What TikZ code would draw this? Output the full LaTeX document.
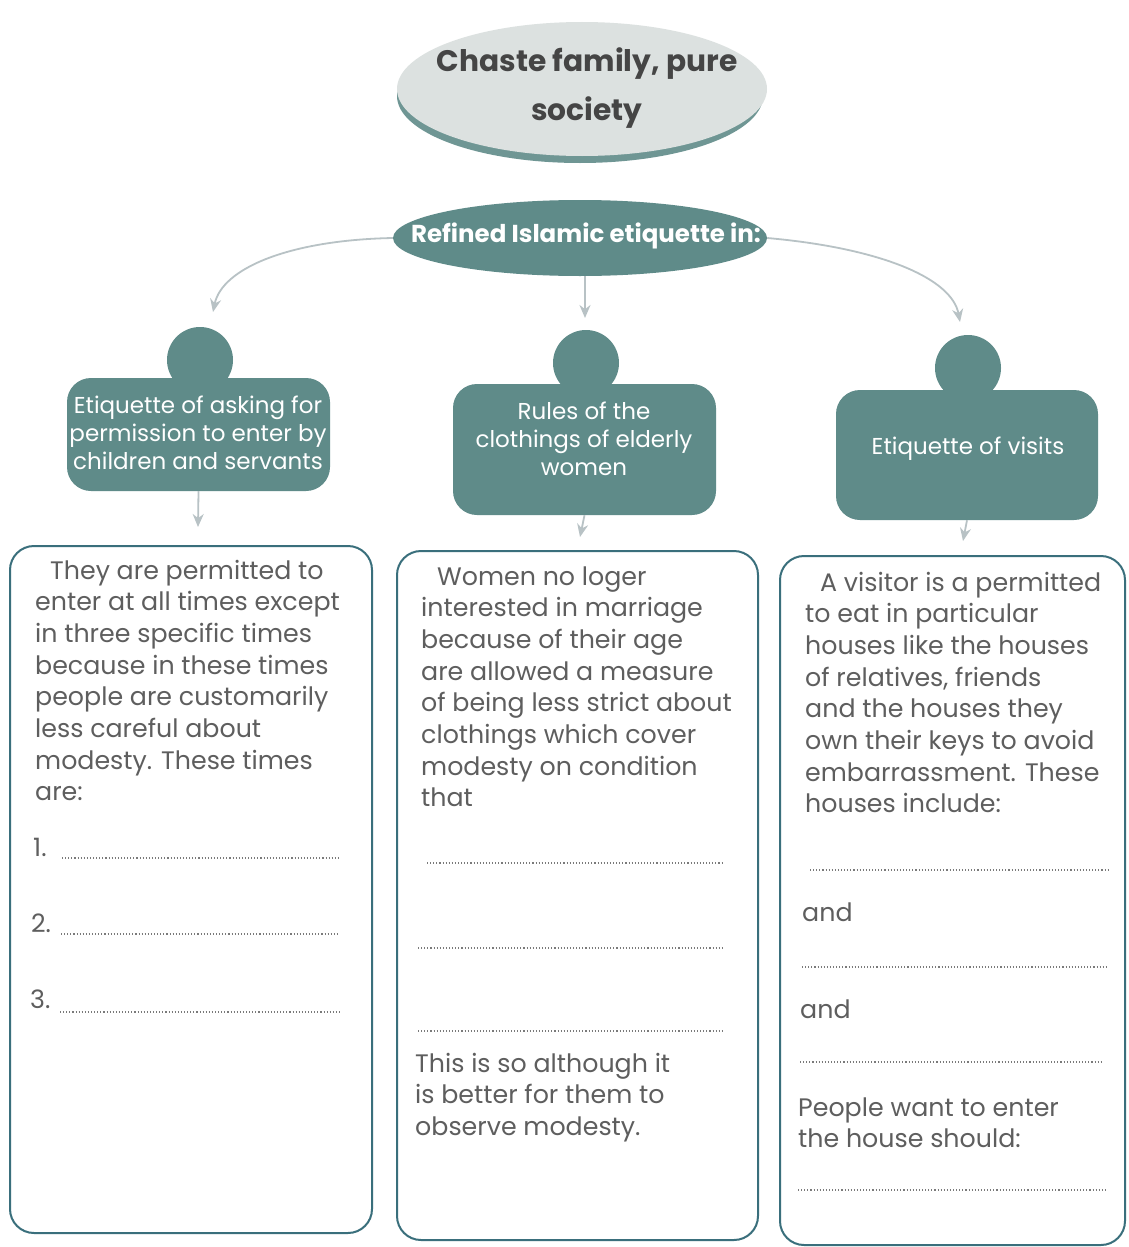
\documentclass[tikz,border=0pt]{standalone}
\usepackage{fontspec}
\setmainfont{Poppins}
\usetikzlibrary{arrows.meta,shapes.geometric}
\definecolor{teal1}{HTML}{5F8B89}
\definecolor{tealshadow}{HTML}{6F9694}
\definecolor{lightell}{HTML}{DCE1E0}
\definecolor{boxblue}{HTML}{3A6F7C}
\definecolor{arrgray}{HTML}{B8C2C5}
\definecolor{txtgray}{HTML}{5E5E5E}
\definecolor{titlegray}{HTML}{454545}
\definecolor{dotgray}{HTML}{7A7A7A}
\begin{document}
\begin{tikzpicture}[x=1pt,y=-1pt,
  knob/.style={circle, fill=teal1, minimum size=66pt, inner sep=0pt},
  hdr/.style={fill=teal1, rounded corners=24pt, inner sep=0pt},
  hdrtext/.style={text=white, align=center, inner sep=0pt, font=\fontsize{23}{28}\selectfont},
  ansbox/.style={draw=boxblue, line width=2pt, rounded corners=24pt, inner sep=0pt},
  arr/.style={draw=arrgray, line width=1.8pt, -{Stealth[length=13pt,width=11pt]}},
  para/.style={anchor=base west, inner sep=0pt, text=txtgray, font=\fontsize{25.3}{31.7}\selectfont},
  fillline/.style={draw=dotgray, line width=1.1pt, dash pattern=on 1.1pt off 2pt}]
\useasboundingbox (0,0) rectangle (1128,1247);
\fill[white] (0,0) rectangle (1128,1247);

% title ellipse
\node[ellipse, fill=tealshadow, minimum width=366pt, minimum height=134pt, inner sep=0pt] (topshadow) at (580,96) {};
\node[ellipse, fill=lightell, minimum width=370pt, minimum height=134pt, inner sep=0pt] (top) at (582,89) {};
\node[text=titlegray, align=center, inner sep=0pt, font=\bfseries\fontsize{29.7}{49}\selectfont] (toptext) at (587,88) {Chaste family, pure\\society};

% subtitle ellipse
\node[ellipse, fill=teal1, minimum width=374pt, minimum height=76pt, inner sep=0pt] (sub) at (580,238) {};
\node[text=white, inner sep=0pt, font=\bfseries\fontsize{24.5}{28}\selectfont] (subtext) at (586,236) {Refined Islamic etiquette in:};

% headers
\node[knob] (c1) at (200,360) {};
\node[hdr, minimum width=263pt, minimum height=113pt] (h1) at (198.5,434.5) {};
\node[hdrtext] (t1) at (198,433) {Etiquette of asking for\\permission to enter by\\children and servants};

\node[knob] (c2) at (586,363) {};
\node[hdr, minimum width=263pt, minimum height=131pt] (h2) at (584.5,449.5) {};
\node[hdrtext] (t2) at (584,439) {Rules of the\\clothings of elderly\\women};

\node[knob] (c3) at (968,368) {};
\node[hdr, minimum width=262pt, minimum height=130pt] (h3) at (967,455) {};
\node[hdrtext] (t3) at (968,449) {Etiquette of visits};

% connectors
\draw[arr] (sub.west) .. controls (290,240) and (222,268) .. (213,312);
\draw[arr] ([xshift=5pt]sub.south) -- (585,318);
\draw[arr] (sub.east) .. controls (880,248) and (952,278) .. (960,322);

\coordinate (e1) at (198,527);
\coordinate (e2) at (580,537);
\coordinate (e3) at (963,541);
\draw[arr] (h1.south) -- (e1);
\draw[arr] (h2.south) -- (e2);
\draw[arr] (h3.south) -- (e3);

% answer boxes
\node[ansbox, minimum width=362pt, minimum height=687pt] (b1) at (191,889.5) {};
\node[ansbox, minimum width=361pt, minimum height=689pt] (b2) at (577.5,895.5) {};
\node[ansbox, minimum width=345pt, minimum height=689pt] (b3) at (952.5,900.5) {};

% left box text
\node[para] (p1) at (35,579) {\parbox[t]{340pt}{\raggedright\hspace*{15pt}They are permitted to\\enter at all times except\\in three specific times\\because in these times\\people are customarily\\less careful about\\modesty. These times\\are:}};
\node[para] (n1) at (33,856) {1.};
\node[para] (n2) at (31,932) {2.};
\node[para] (n3) at (30,1008) {3.};
\draw[fillline] (62,858) -- (338,858);
\draw[fillline] (61,934) -- (337,934);
\draw[fillline] (60,1012) -- (340,1012);

% middle box text
\node[para] (p2) at (421,585) {\parbox[t]{340pt}{\raggedright\hspace*{16pt}Women no loger\\interested in marriage\\because of their age\\are allowed a measure\\of being less strict about\\clothings which cover\\modesty on condition\\that}};
\draw[fillline] (427,863) -- (724,863);
\draw[fillline] (418,948) -- (724,948);
\draw[fillline] (418,1031) -- (722,1031);
\node[para] (p3) at (415,1072) {\parbox[t]{340pt}{\raggedright This is so although it\\is better for them to\\observe modesty.}};

% right box text
\node[para] (p4) at (805,591) {\parbox[t]{320pt}{\raggedright\hspace*{15pt}A visitor is a permitted\\to eat in particular\\houses like the houses\\of relatives, friends\\and the houses they\\own their keys to avoid\\embarrassment. These\\houses include:}};
\draw[fillline] (810,870) -- (1110,870);
\node[para] (a1) at (802,921) {and};
\draw[fillline] (802,967) -- (1107,967);
\node[para] (a2) at (800,1018) {and};
\draw[fillline] (800,1062) -- (1102,1062);
\node[para] (p5) at (798,1116) {\parbox[t]{320pt}{\raggedright People want to enter\\the house should:}};
\draw[fillline] (798,1190) -- (1105,1190);
\end{tikzpicture}
\end{document}
